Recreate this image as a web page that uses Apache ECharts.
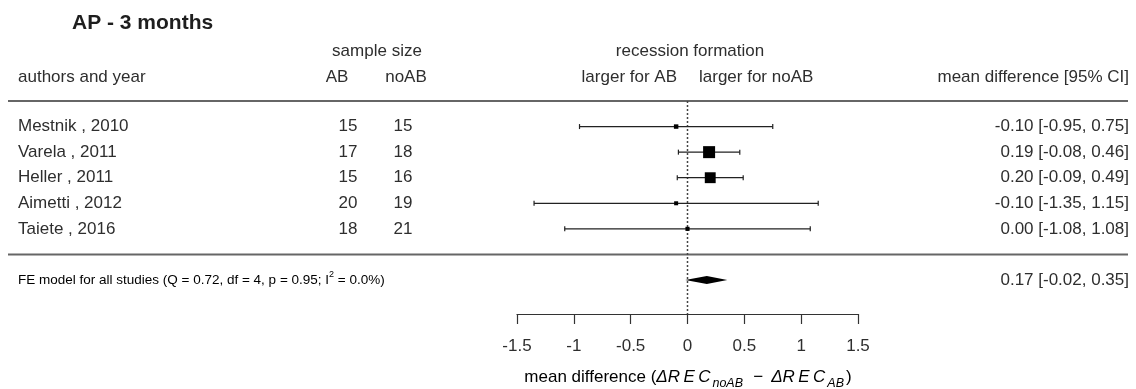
<!DOCTYPE html>
<html>
<head>
<meta charset="utf-8">
<script src="https://cdn.jsdelivr.net/npm/echarts@6/dist/echarts.min.js"></script>
<style>
html,body{margin:0;padding:0;background:#fff;}
#chart{width:1136px;height:389px;}
</style>
</head>
<body>
<div id="chart"></div>
<script>
// ---- data ----
const titleText = 'AP - 3 months';
const authors = ['Mestnik , 2010', 'Varela , 2011', 'Heller , 2011', 'Aimetti , 2012', 'Taiete , 2016'];
const nAB = [15, 17, 15, 20, 18];
const nNoAB = [15, 18, 16, 19, 21];
const meanDiff = [-0.10, 0.19, 0.20, -0.10, 0.00];
const ciLow = [-0.95, -0.08, -0.09, -1.35, -1.08];
const ciHigh = [0.75, 0.46, 0.49, 1.15, 1.08];
const feEst = [0.17];
const feLow = [-0.02];
const feHigh = [0.35];
const feLabel = 'FE model for all studies (Q = 0.72, df = 4, p = 0.95; I';
const feLabelTail = ' = 0.0%)';
const xTicks = [-1.5, -1, -0.5, 0, 0.5, 1, 1.5];

// ---- layout ----
const FONT = '"Liberation Sans", Arial, sans-serif';
const TXT = '#2e2e2e';
const ROW_MAX = 8.33;
const studyRows = authors.map((_, i) => i + 1);
const sepRows = [0, 6];
const feRow = 7;

// square sizes from inverse-variance weights (linear, like metafor)
const weights = ciLow.map((lo, i) => { const se = (ciHigh[i] - lo) / 3.92; return 1 / (se * se); });
const wMin = Math.min(...weights), wMax = Math.max(...weights);
const sizes = weights.map(w => 4 + 8 * (w - wMin) / (wMax - wMin));

const fmt = v => v.toFixed(2);

const chart = echarts.init(document.getElementById('chart'));

const studyData = meanDiff.map((m, i) => [m, ciLow[i], ciHigh[i], studyRows[i], sizes[i]]);
const TS = '\u2009';

chart.setOption({
  animation: false,
  title: {
    text: titleText, left: 67, top: 8,
    textStyle: {fontFamily: FONT, fontSize: 21, fontWeight: 'bold', color: '#1e1e1e'}
  },
  grid: {left: 517, right: 278, top: 101, bottom: 75},
  xAxis: {
    type: 'value', min: -1.5, max: 1.5, interval: 0.5, position: 'bottom',
    axisLine: {show: true, onZero: false, lineStyle: {color: '#333', width: 1.2}},
    axisTick: {show: true, length: 10, lineStyle: {color: '#333', width: 1.2}},
    axisLabel: {
      fontFamily: FONT, fontSize: 17, color: TXT, margin: 24,
      formatter: v => { const t = xTicks.find(x => Math.abs(x - v) < 1e-9); return t === undefined ? '' : String(t); }
    },
    splitLine: {show: false}
  },
  yAxis: {type: 'value', min: 0, max: ROW_MAX, inverse: true, show: false},
  graphic: [
    {type: 'text', x: 377, y: 51, style: {text: 'sample size', font: '17px ' + FONT, fill: TXT, align: 'center', verticalAlign: 'middle'}},
    {type: 'text', x: 18, y: 77, style: {text: 'authors and year', font: '17px ' + FONT, fill: TXT, align: 'left', verticalAlign: 'middle'}},
    {type: 'text', x: 337, y: 77, style: {text: 'AB', font: '17px ' + FONT, fill: TXT, align: 'center', verticalAlign: 'middle'}},
    {type: 'text', x: 406, y: 77, style: {text: 'noAB', font: '17px ' + FONT, fill: TXT, align: 'center', verticalAlign: 'middle'}},
    {type: 'text', x: 690, y: 51, style: {text: 'recession formation', font: '17px ' + FONT, fill: TXT, align: 'center', verticalAlign: 'middle'}},
    {type: 'text', x: 677, y: 77, style: {text: 'larger for AB', font: '17px ' + FONT, fill: TXT, align: 'right', verticalAlign: 'middle'}},
    {type: 'text', x: 699, y: 77, style: {text: 'larger for noAB', font: '17px ' + FONT, fill: TXT, align: 'left', verticalAlign: 'middle'}},
    {type: 'text', x: 1129, y: 77, style: {text: 'mean difference [95% CI]', font: '17px ' + FONT, fill: TXT, align: 'right', verticalAlign: 'middle'}},
    {type: 'text', x: 688, y: 377, style: {
      text: '{n|mean difference (}{i|ΔR' + TS + 'E' + TS + 'C}{s|noAB}{n|' + TS + ' − ' + TS + '}{i|ΔR' + TS + 'E' + TS + 'C}{s|AB}{n|)}',
      align: 'center', verticalAlign: 'middle',
      rich: {
        n: {fontFamily: FONT, fontSize: 17, color: TXT, lineHeight: 26, verticalAlign: 'middle'},
        i: {fontFamily: FONT, fontSize: 17, fontStyle: 'italic', color: TXT, lineHeight: 26, verticalAlign: 'middle', padding: [0, 1, 0, 0]},
        s: {fontFamily: FONT, fontSize: 12.5, fontStyle: 'italic', color: TXT, lineHeight: 12, verticalAlign: 'bottom', padding: [0, 2, 0, 1]}
      }
    }}
  ],
  series: [
    // horizontal separator lines
    {
      type: 'custom', silent: true, clip: false,
      data: sepRows.map(r => [0, r]),
      renderItem: (params, api) => {
        const y = api.coord([0, api.value(1)])[1];
        return {type: 'line', shape: {x1: 8, y1: y, x2: 1128, y2: y}, style: {stroke: '#666', lineWidth: 2}};
      }
    },
    // dotted reference line at 0
    {
      type: 'custom', silent: true, clip: false,
      data: [[0, 0, ROW_MAX]],
      renderItem: (params, api) => {
        const a = api.coord([api.value(0), api.value(1)]);
        const b = api.coord([api.value(0), api.value(2)]);
        return {type: 'line', shape: {x1: a[0], y1: a[1], x2: b[0], y2: b[1]}, style: {stroke: '#444', lineWidth: 1.5, lineDash: [2, 2]}};
      }
    },
    // study CIs and squares
    {
      type: 'custom', silent: true, clip: false,
      data: studyData,
      renderItem: (params, api) => {
        const row = api.value(3);
        const c = api.coord([api.value(0), row]);
        const lo = api.coord([api.value(1), row]);
        const hi = api.coord([api.value(2), row]);
        const s = api.value(4);
        const st = {stroke: '#222', lineWidth: 1.2};
        return {type: 'group', children: [
          {type: 'line', shape: {x1: lo[0], y1: c[1], x2: hi[0], y2: c[1]}, style: st},
          {type: 'line', shape: {x1: lo[0], y1: c[1] - 2.5, x2: lo[0], y2: c[1] + 2.5}, style: st},
          {type: 'line', shape: {x1: hi[0], y1: c[1] - 2.5, x2: hi[0], y2: c[1] + 2.5}, style: st},
          {type: 'rect', shape: {x: c[0] - s / 2, y: c[1] - s / 2, width: s, height: s}, style: {fill: '#000'}}
        ]};
      }
    },
    // FE diamond
    {
      type: 'custom', silent: true, clip: false,
      data: feEst.map((e, i) => [e, feLow[i], feHigh[i], feRow]),
      renderItem: (params, api) => {
        const row = api.value(3);
        const c = api.coord([api.value(0), row]);
        const lo = api.coord([api.value(1), row]);
        const hi = api.coord([api.value(2), row]);
        return {type: 'polygon', shape: {points: [[lo[0], c[1]], [c[0], c[1] - 4], [hi[0], c[1]], [c[0], c[1] + 4]]}, style: {fill: '#000'}};
      }
    },
    // study table text
    {
      type: 'custom', silent: true, clip: false,
      data: studyData,
      renderItem: (params, api) => {
        const i = params.dataIndex;
        const y = api.coord([0, api.value(3)])[1];
        const f = '17px ' + FONT;
        return {type: 'group', children: [
          {type: 'text', x: 18, y: y, style: {text: authors[i], font: f, fill: TXT, align: 'left', verticalAlign: 'middle'}},
          {type: 'text', x: 348, y: y, style: {text: String(nAB[i]), font: f, fill: TXT, align: 'center', verticalAlign: 'middle'}},
          {type: 'text', x: 403, y: y, style: {text: String(nNoAB[i]), font: f, fill: TXT, align: 'center', verticalAlign: 'middle'}},
          {type: 'text', x: 1129, y: y, style: {text: fmt(meanDiff[i]) + ' [' + fmt(ciLow[i]) + ', ' + fmt(ciHigh[i]) + ']', font: f, fill: TXT, align: 'right', verticalAlign: 'middle'}}
        ]};
      }
    },
    // FE row text
    {
      type: 'custom', silent: true, clip: false,
      data: feEst.map((e, i) => [e, feLow[i], feHigh[i], feRow]),
      renderItem: (params, api) => {
        const i = params.dataIndex;
        const y = api.coord([0, api.value(3)])[1];
        return {type: 'group', children: [
          {type: 'text', x: 18, y: y, style: {
            text: '{n|' + feLabel + '}{sup|2}{n|' + feLabelTail + '}',
            align: 'left', verticalAlign: 'middle',
            rich: {
              n: {fontFamily: FONT, fontSize: 13.5, color: TXT, lineHeight: 20, verticalAlign: 'middle'},
              sup: {fontFamily: FONT, fontSize: 9, color: TXT, lineHeight: 9, verticalAlign: 'top'}
            }
          }},
          {type: 'text', x: 1129, y: y, style: {text: fmt(feEst[i]) + ' [' + fmt(feLow[i]) + ', ' + fmt(feHigh[i]) + ']', font: '17px ' + FONT, fill: TXT, align: 'right', verticalAlign: 'middle'}}
        ]};
      }
    }
  ]
});
</script>
</body>
</html>
